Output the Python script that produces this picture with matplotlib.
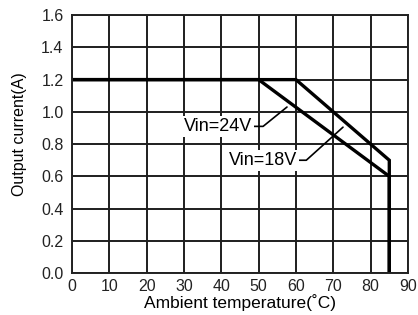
import matplotlib
matplotlib.use('Agg')
import matplotlib.pyplot as plt

# derating curves (ambient temperature in degC, output current in A)
temp_24v = [0, 50, 85, 85]
curr_24v = [1.2, 1.2, 0.6, 0.0]
temp_18v = [0, 60, 85, 85]
curr_18v = [1.2, 1.2, 0.7, 0.0]

x_ticks = [0, 10, 20, 30, 40, 50, 60, 70, 80, 90]
y_ticks = [0.0, 0.2, 0.4, 0.6, 0.8, 1.0, 1.2, 1.4, 1.6]

plt.rcParams['font.family'] = ['Liberation Sans', 'DejaVu Sans']

fig = plt.figure(figsize=(4.18, 3.15), dpi=100)
ax = fig.add_axes([0.172, 0.133, 0.804, 0.819])

ax.set_xlim(0, 90)
ax.set_ylim(0, 1.6)
ax.set_xticks(x_ticks)
ax.set_yticks(y_ticks)
ax.set_yticklabels([f"{v:.1f}" for v in y_ticks])
ax.grid(True, color='#1e1e1e', lw=1.4)
ax.set_axisbelow(True)
ax.tick_params(length=0, labelsize=11.5, colors='#222222')
ax.tick_params(axis='y', pad=6)
ax.tick_params(axis='x', pad=4)
for sp in ax.spines.values():
    sp.set_linewidth(1.4)
    sp.set_color('#222222')

ax.plot(temp_24v, curr_24v, color='black', lw=2.4, solid_joinstyle='miter')
ax.plot(temp_18v, curr_18v, color='black', lw=2.4, solid_joinstyle='miter')

box = dict(fc='white', ec='none', pad=1.5)
ax.annotate("Vin=24V", xy=(57.6, 1.03), xytext=(39.1, 0.91),
            ha='center', va='center', fontsize=13, bbox=box,
            arrowprops=dict(arrowstyle='-', lw=1.2, color='black', shrinkA=0, shrinkB=0,
                            relpos=(1, 0.5),
                            connectionstyle="angle,angleA=0,angleB=39,rad=0"))
ax.annotate("Vin=18V", xy=(72.6, 0.905), xytext=(51.2, 0.70),
            ha='center', va='center', fontsize=13, bbox=box,
            arrowprops=dict(arrowstyle='-', lw=1.2, color='black', shrinkA=0, shrinkB=0,
                            relpos=(1, 0.5),
                            connectionstyle="angle,angleA=0,angleB=42,rad=0"))

ax.set_xlabel("Ambient temperature(˚C)", fontsize=12.5, labelpad=0)
ax.set_ylabel("Output current(A)", fontsize=11.5)
ax.yaxis.set_label_coords(-0.135, 0.54)

fig.savefig("out.png", dpi=100)
